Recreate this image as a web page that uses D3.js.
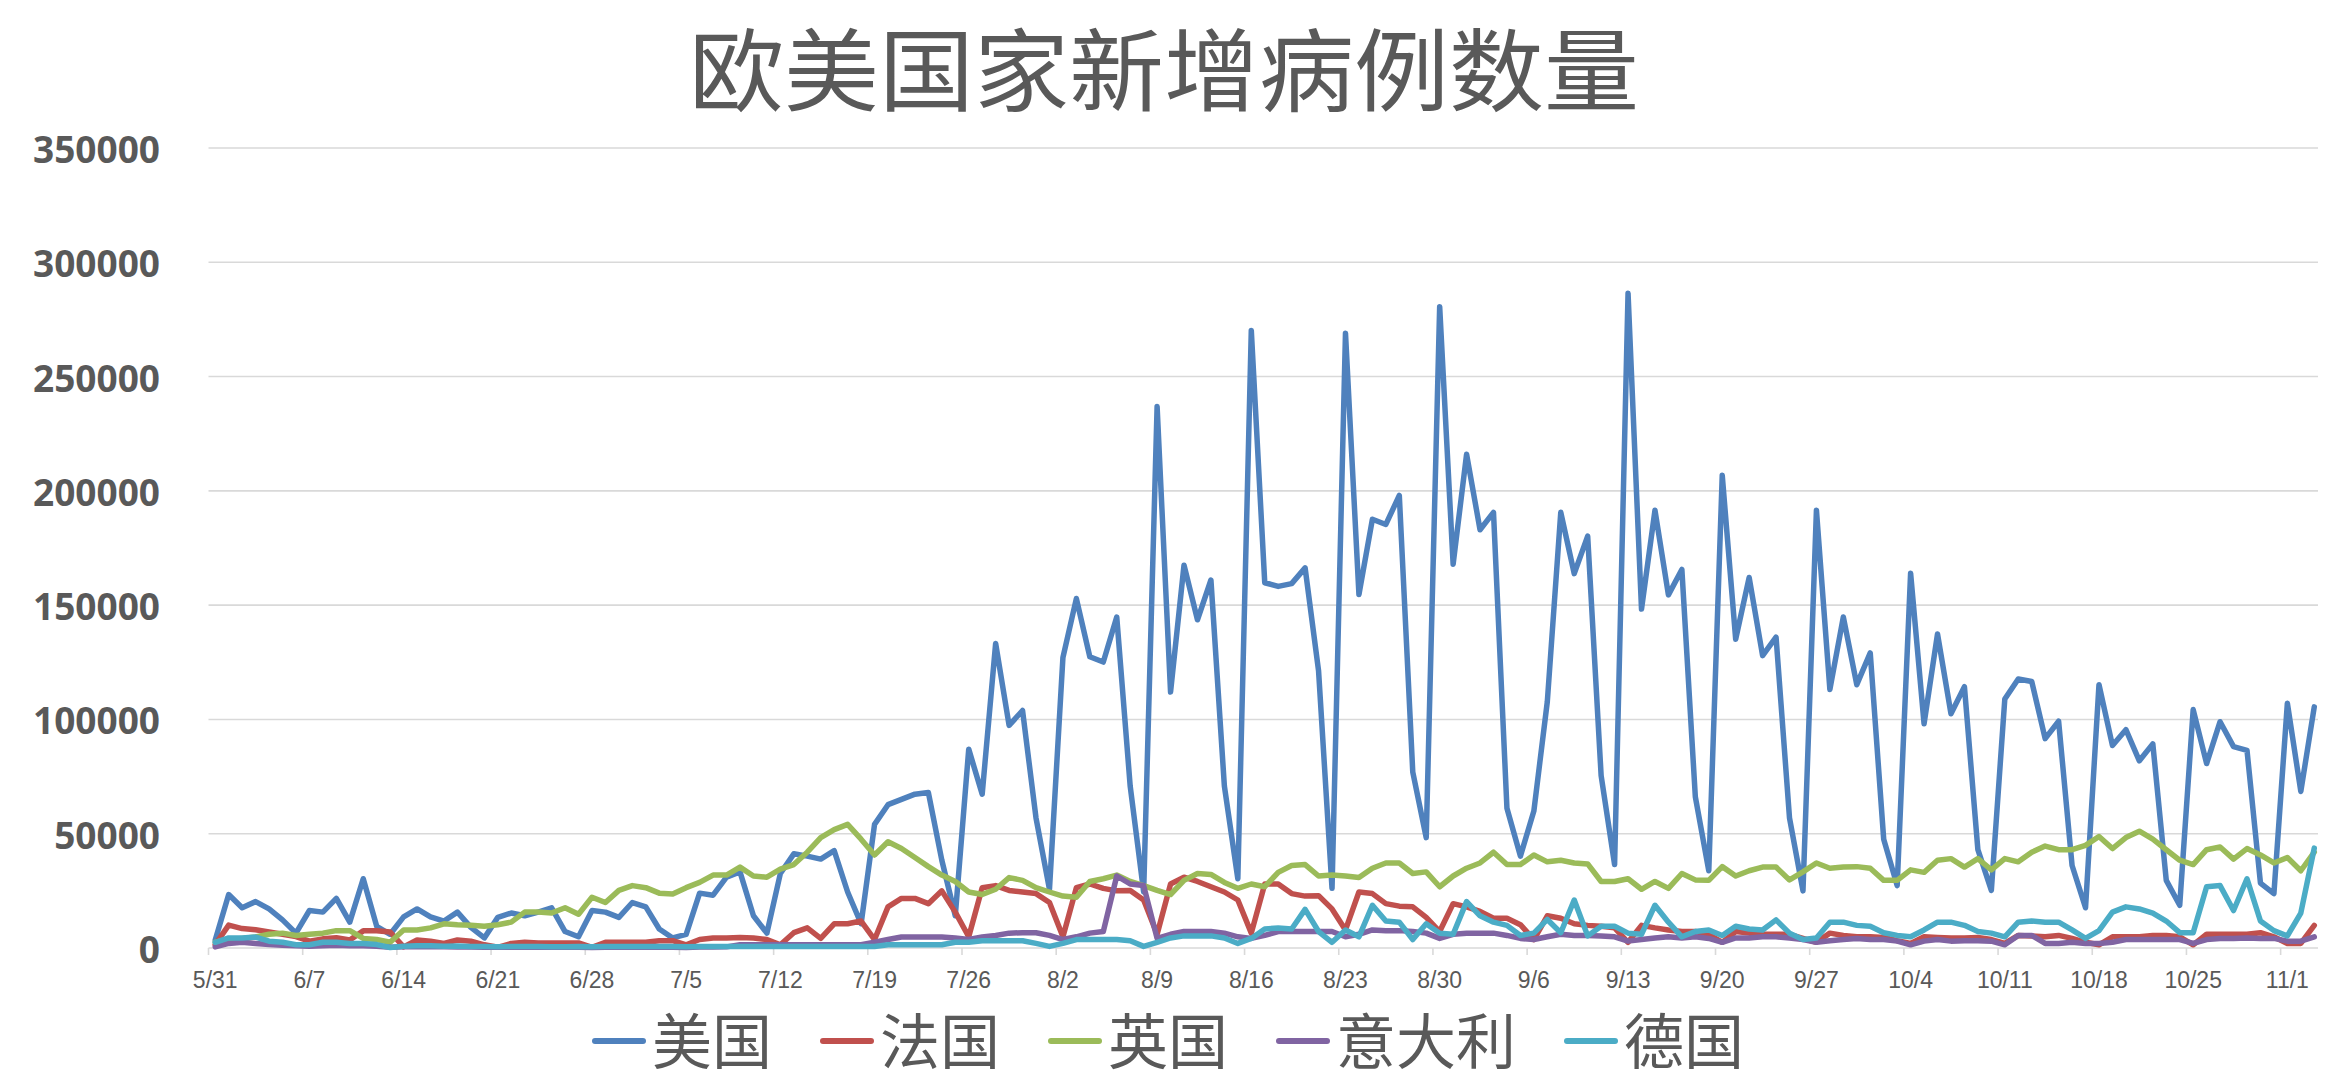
<!DOCTYPE html>
<html>
<head>
<meta charset="utf-8">
<script src="https://cdn.jsdelivr.net/npm/d3@7"></script>
<style>
  html, body { margin: 0; padding: 0; background: #ffffff; }
  svg { display: block; }
</style>
</head>
<body>
<svg id="chart" width="2331" height="1091"></svg>
<script>
// ---------------- DATA ----------------
const chartTitle = "欧美国家新增病例数量";
const startDate = "2020-05-31";
const seriesNames = ["美国", "法国", "英国", "意大利", "德国"];
const seriesColors = ["#4F81BD", "#C0504D", "#9BBB59", "#8064A2", "#4BACC6"];
const tickLabels = ["5/31","6/7","6/14","6/21","6/28","7/5","7/12","7/19","7/26","8/2","8/9","8/16","8/23","8/30","9/6","9/13","9/20","9/27","10/4","10/11","10/18","10/25","11/1"];
const yTicks = [0, 50000, 100000, 150000, 200000, 250000, 300000, 350000];

const usa = [3500,23400,17600,20300,17100,12300,6500,16400,15700,21700,11300,30300,9500,6000,13600,17100,13600,11800,15700,9000,
4400,13400,15300,14100,15700,17600,7200,4900,16400,15700,13400,19900,18000,8300,4400,6000,24000,23100,31000,33300,
14100,6500,32600,41200,40200,38900,42600,24500,10600,54100,62700,65000,67300,68000,38400,14100,87000,67300,133200,97400,
103900,56900,25700,127000,152900,127400,125100,144800,70800,24500,236900,112000,167500,143600,161000,70800,30300,270200,159800,158200,
159400,166300,121200,26100,269000,154700,187600,185300,198000,77000,48300,280600,167900,216000,183000,190600,61100,40200,59900,107800,
190600,163800,180200,75400,36500,286400,148300,191500,154500,165600,66200,33800,206800,135100,162100,127900,136000,56900,25000,191500,
113100,144800,115200,129100,47600,27300,164000,98100,137400,102500,114300,43000,25200,108900,117700,116600,91600,99200,36100,17600,
115200,88600,95500,81900,89300,29600,18700,104300,80700,99000,88100,86500,28400,23800,107100,68500,105500];

const france = [1500,10000,8500,8000,7000,6000,5000,3000,4000,4500,3500,7500,7500,7000,500,3500,3000,2000,3500,3000,
1400,300,2000,2500,2200,2200,2200,2200,300,2500,2500,2500,2500,3200,3200,1400,3700,4400,4400,4600,
4400,3700,1400,6700,8800,4200,10600,10600,11800,3700,18000,21700,21700,19400,25000,15700,4900,26400,27300,25200,
24500,23800,19900,4900,26400,28000,26100,25000,25200,21000,6000,28000,31000,29100,26800,24500,21000,6500,28000,28000,
23800,22700,22900,17100,7900,24500,23800,19400,18300,18000,13400,7200,19400,18000,16000,13000,13000,10200,3700,14100,
13000,10600,9900,9500,8800,2500,9900,8800,7900,7200,7200,6000,2500,7200,6500,6000,6000,6000,4200,2500,
6500,5500,4900,4900,4600,3200,2000,4900,4600,4400,4400,4600,3700,2000,5500,5300,4900,5500,4200,2500,
1400,4900,4900,4900,5500,5500,4900,1400,6000,6000,6000,6000,6700,4900,2000,2000,9900];

const uk = [2500,3700,4200,4800,6000,6500,5500,6000,6500,7600,7600,4200,3700,2500,7900,7900,8800,10600,10200,10000,
9500,10200,11300,15700,15700,15300,17600,14800,22200,19900,25200,27300,26400,24000,23600,26400,28700,31900,31900,35400,
31500,31000,34500,36500,41900,48300,51800,54100,47600,40700,46500,43500,39600,35600,31900,29100,24500,23400,25700,30800,
29600,26400,24500,22700,22200,29100,30300,31900,29100,27300,25200,23400,29600,32600,32200,28700,26100,28000,26800,33100,
36100,36500,31500,31900,31500,30800,34900,37200,37200,32600,33300,26800,31500,34900,37200,41900,36500,36500,40700,37700,
38400,37200,36800,29100,29100,30300,25700,29100,26100,32600,29800,29600,35600,31500,33800,35400,35400,29800,33300,37200,
34900,35400,35600,34900,29600,29600,34200,33100,38400,39100,35400,39100,34200,39100,37700,41900,44600,43000,43000,44900,
48800,43500,48300,51100,47600,43000,38400,36500,43000,44200,38900,43500,40700,37200,39600,33800,41900];

const italy = [500,2000,2500,2000,1500,1200,1000,800,1000,1200,1000,1000,800,300,500,600,500,500,400,400,
300,300,300,300,300,300,300,300,200,300,300,300,300,300,300,200,400,400,500,1400,
1400,1400,1400,1400,1400,1400,1400,1400,1400,2500,3700,4800,4800,4800,4800,4400,3700,4800,5500,6500,
6700,6700,5500,3700,4900,6500,7200,31500,28000,27300,4200,6000,7200,7200,7200,6500,4900,4200,5500,7200,
7200,7200,7200,7200,4900,6000,7900,7600,7600,7200,6500,4200,6000,6500,6500,6500,5500,4200,3700,4900,
6000,5500,5500,5300,4900,3000,3700,4400,4900,4400,4900,4200,2500,4400,4400,4900,4900,4400,3700,2500,
3200,3700,4200,3700,3700,3000,1400,3000,3700,3000,3200,3200,3000,1400,5500,5500,2000,2000,2500,2000,
2000,2500,3700,3700,3700,3700,3700,2000,3700,4200,4200,4400,4200,4200,3000,3000,4900];

const germany = [2500,4400,4400,4800,3000,2500,1400,1400,2500,2500,2000,2000,1500,200,800,1000,1000,800,900,700,
700,600,700,700,700,600,600,700,500,700,700,700,700,700,700,600,700,700,700,700,
700,700,700,700,700,700,700,700,700,700,1400,1400,1400,1400,1400,2500,2500,3200,3200,3200,
3200,2000,700,2000,3700,3700,3700,3700,3200,700,2500,4400,5300,5300,5300,4400,2000,4200,8300,8800,
8300,16900,7200,2500,7900,4900,18700,11800,11300,3700,10600,6500,6000,20300,14100,11300,9900,5500,6500,12500,
6700,21000,5300,9500,9500,6500,6000,18700,11300,4900,7200,7900,5500,9500,8300,7900,12300,6500,3700,4400,
11300,11300,9900,9500,6700,5500,4900,7900,11300,11300,9900,7200,6500,4900,11300,11800,11300,11300,7900,4200,
7600,15700,18000,17100,15300,11800,6700,6700,26800,27300,16400,30300,11800,7600,5300,15300,43700];

const seriesValues = [usa, france, uk, italy, germany];

// ---------------- LAYOUT ----------------
const svg = d3.select("#chart");
const W = 2331, H = 1091;
const plotLeft = 208.5, plotRight = 2321, plotTop = 148, plotBottom = 948;
const textColor = "#595959";
const gridColor = "#D9D9D9";

const parse = d3.timeParse("%Y-%m-%d");
const start = parse(startDate);
const categories = d3.range(usa.length).map(i => d3.timeDay.offset(start, i));

const x = d3.scaleBand().domain(d3.range(categories.length)).range([plotLeft, plotRight]).paddingInner(0).paddingOuter(0);
const bw = x.bandwidth();
const y = d3.scaleLinear().domain([0, 350000]).range([plotBottom, plotTop]);

svg.append("rect").attr("width", W).attr("height", H).attr("fill", "#ffffff");

// Title
svg.append("text")
  .attr("x", 1164).attr("y", 104)
  .attr("text-anchor", "middle")
  .attr("font-family", "'Noto Sans CJK SC', sans-serif")
  .attr("font-size", 90)
  .attr("font-weight", 400)
  .attr("textLength", 950)
  .attr("lengthAdjust", "spacingAndGlyphs")
  .attr("fill", textColor)
  .text(chartTitle);

// Gridlines
svg.append("g").selectAll("line")
  .data(yTicks.filter(d => d > 0))
  .join("line")
  .attr("x1", plotLeft).attr("x2", 2318)
  .attr("y1", d => y(d)).attr("y2", d => y(d))
  .attr("stroke", gridColor).attr("stroke-width", 1.6);

// Y axis labels
const yAxis = d3.axisLeft(y).tickValues(yTicks).tickSize(0).tickPadding(0).tickFormat(d3.format("d"));
const gy = svg.append("g").attr("transform", `translate(160,0)`).call(yAxis);
gy.select(".domain").remove();
gy.selectAll("text")
  .attr("font-family", "'Open Sans', 'DejaVu Sans', sans-serif")
  .attr("font-weight", 700)
  .attr("font-size", 37)
  .attr("fill", textColor)
  .attr("dy", null)
  .attr("dominant-baseline", "central");

// X axis
const tickIdx = tickLabels.map((t, k) => k * 7);
const xAxis = d3.axisBottom(x).tickValues(tickIdx).tickSize(0).tickPadding(0)
  .tickFormat((d, k) => tickLabels[k]);
const gx = svg.append("g").attr("transform", `translate(0,${plotBottom})`).call(xAxis);
gx.select(".domain").remove();
gx.selectAll("text")
  .attr("font-family", "'Liberation Sans', Arial, sans-serif")
  .attr("font-size", 23)
  .attr("fill", textColor)
  .attr("y", 32)
  .attr("dy", null)
  .attr("dominant-baseline", "central");
// baseline axis line
svg.append("line")
  .attr("x1", plotLeft).attr("x2", 2318)
  .attr("y1", plotBottom).attr("y2", plotBottom)
  .attr("stroke", gridColor).attr("stroke-width", 1.6);
// tick marks at category boundaries
svg.append("g").selectAll("line")
  .data(tickIdx)
  .join("line")
  .attr("x1", d => x(d)).attr("x2", d => x(d))
  .attr("y1", plotBottom).attr("y2", plotBottom + 7)
  .attr("stroke", gridColor).attr("stroke-width", 1.6);

// Lines
const line = d3.line()
  .x((d, i) => x(i) + bw / 2)
  .y(d => y(d));

svg.append("g").selectAll("path")
  .data(seriesValues)
  .join("path")
  .attr("d", d => line(d))
  .attr("fill", "none")
  .attr("stroke", (d, i) => seriesColors[i])
  .attr("stroke-width", 5.5)
  .attr("stroke-linejoin", "round")
  .attr("stroke-linecap", "round");

// Legend
const legend = svg.append("g");
let lx = 592;
const ly = 1041;
seriesNames.forEach((name, i) => {
  legend.append("line")
    .attr("x1", lx + 3).attr("x2", lx + 51)
    .attr("y1", ly).attr("y2", ly)
    .attr("stroke", seriesColors[i]).attr("stroke-width", 6)
    .attr("stroke-linecap", "round");
  const t = legend.append("text")
    .attr("x", lx + 60).attr("y", ly - 4)
    .attr("dominant-baseline", "central")
    .attr("font-family", "'Noto Sans CJK SC', sans-serif")
    .attr("font-size", 60)
    .attr("fill", textColor)
    .text(name);
  const w = t.node().getComputedTextLength();
  lx = lx + 60 + w + 48;
});
</script>
</body>
</html>
